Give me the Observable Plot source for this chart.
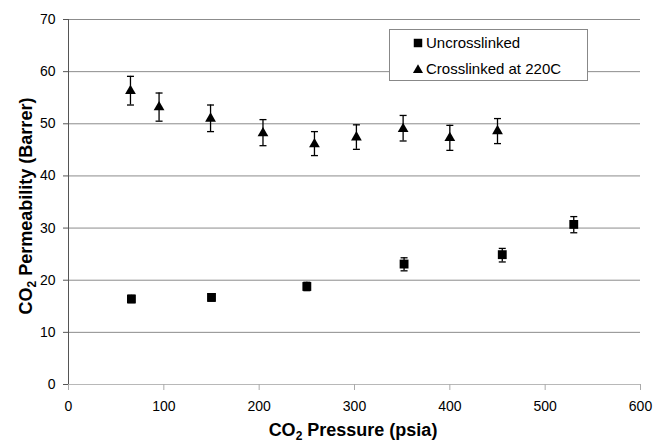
<!DOCTYPE html>
<html><head><meta charset="utf-8">
<script src="https://cdn.jsdelivr.net/npm/d3@7"></script>
<script src="https://cdn.jsdelivr.net/npm/@observablehq/plot@0.6"></script>
<style>body{margin:0;background:#fff} #chart{width:653px;height:441px}</style>
</head><body><div id="chart"></div>
<script>
// Data
const uncrossPressure = [66, 150, 250, 352, 455, 530];
const uncrossPerm     = [16.4, 16.7, 18.8, 23.1, 24.9, 30.7];
const uncrossLo       = [15.7, 16.0, 18.0, 21.8, 23.5, 29.1];
const uncrossHi       = [17.1, 17.4, 19.6, 24.3, 26.1, 32.2];

const crossPressure = [65, 95, 149, 204, 258, 302, 351, 400, 450];
const crossPerm     = [56.3, 53.2, 51.0, 48.2, 46.1, 47.4, 49.0, 47.3, 48.6];
const crossLo       = [53.6, 50.5, 48.5, 45.8, 43.9, 45.1, 46.7, 44.9, 46.2];
const crossHi       = [59.1, 55.9, 53.6, 50.8, 48.5, 49.8, 51.6, 49.7, 51.0];

const xTicks = [0, 100, 200, 300, 400, 500, 600];
const yTicks = [0, 10, 20, 30, 40, 50, 60, 70];
const seriesNames = ["Uncrosslinked", "Crosslinked at 220C"];

const uncross = uncrossPressure.map((x, i) => ({x, y: uncrossPerm[i], lo: uncrossLo[i], hi: uncrossHi[i]}));
const cross = crossPressure.map((x, i) => ({x, y: crossPerm[i], lo: crossLo[i], hi: crossHi[i]}));
const all = uncross.concat(cross);

const cap = {draw(ctx) { ctx.moveTo(-3.5, 0); ctx.lineTo(3.5, 0); }};

const plot = Plot.plot({
  width: 653, height: 441,
  marginLeft: 68, marginRight: 13, marginTop: 19, marginBottom: 57,
  style: {fontFamily: "'Liberation Sans', Arial, sans-serif", fontSize: "14px", background: "#fff", color: "#000"},
  x: {domain: [0, 600]},
  y: {domain: [0, 70]},
  marks: [
    Plot.gridY(yTicks.filter(v => v > 0), {stroke: "#8c8c8c", strokeOpacity: 1}),
    Plot.ruleY([0], {stroke: "#b8b8b8"}),
    Plot.ruleX([0], {stroke: "#555"}),
    Plot.axisX({ticks: xTicks, tickSize: 6, tickPadding: 11, stroke: "#aaa", fill: "#000", label: null, fontSize: 14}),
    Plot.axisY({ticks: yTicks, tickSize: 5, tickPadding: 8, stroke: "#555", fill: "#000", label: null, fontSize: 14}),
    Plot.dot(uncross, {x: "x", y: "y", symbol: "square", r: 5, fill: "#000"}),
    Plot.dot(cross, {x: "x", y: "y", symbol: "triangle", r: 4, fill: "#000"}),
    Plot.ruleX(all, {x: "x", y1: "lo", y2: "hi", stroke: "#000", strokeWidth: 1.3}),
    Plot.dot(all, {x: "x", y: "lo", symbol: cap, stroke: "#000", strokeWidth: 1.3}),
    Plot.dot(all, {x: "x", y: "hi", symbol: cap, stroke: "#000", strokeWidth: 1.3})
  ]
});
document.getElementById("chart").appendChild(plot);

const svg = d3.select(plot);
const font = "'Liberation Sans', Arial, sans-serif";

// Axis titles with subscripts
const xt = svg.append("text").attr("x", 353).attr("y", 435.5).attr("text-anchor", "middle")
  .attr("font-family", font).attr("font-size", 18).attr("font-weight", "bold").attr("fill", "#000");
xt.append("tspan").text("CO");
xt.append("tspan").attr("font-size", 12).attr("dy", 4).text("2");
xt.append("tspan").attr("dy", -4).text(" Pressure (psia)");

const yt = svg.append("text").attr("transform", "translate(32,206) rotate(-90)").attr("text-anchor", "middle")
  .attr("font-family", font).attr("font-size", 18).attr("font-weight", "bold").attr("fill", "#000");
yt.append("tspan").text("CO");
yt.append("tspan").attr("font-size", 12).attr("dy", 4).text("2");
yt.append("tspan").attr("dy", -4).text(" Permeability (Barrer)");

// Legend
const lg = svg.append("g").attr("text-anchor", "start");
lg.append("rect").attr("x", 389.5).attr("y", 29.5).attr("width", 198).attr("height", 51)
  .attr("fill", "#fff").attr("stroke", "#888");
lg.append("path").attr("transform", "translate(418,43)").attr("d", d3.symbol(d3.symbolSquare, 72)()).attr("fill", "#000");
lg.append("path").attr("transform", "translate(418,70)").attr("d", d3.symbol(d3.symbolTriangle, 44)()).attr("fill", "#000");
lg.append("text").attr("x", 426).attr("y", 47.5).attr("text-anchor", "start").attr("font-family", font).attr("font-size", 15).attr("fill", "#000").text(seriesNames[0]);
lg.append("text").attr("x", 426).attr("y", 73.5).attr("text-anchor", "start").attr("font-family", font).attr("font-size", 15).attr("fill", "#000").text(seriesNames[1]);
</script>
</body></html>
